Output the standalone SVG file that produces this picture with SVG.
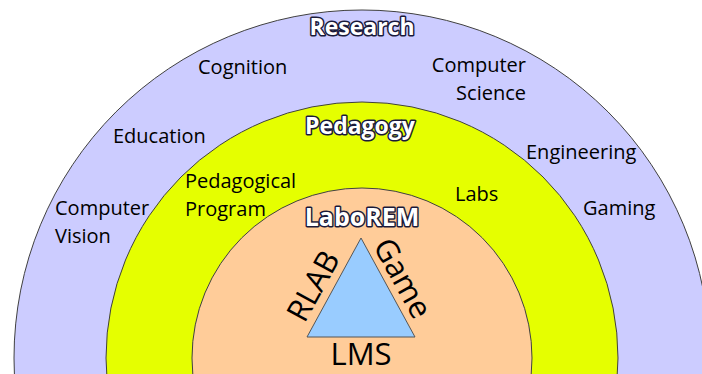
<svg xmlns="http://www.w3.org/2000/svg" width="702" height="374" viewBox="0 0 702 374">
<style>
.ring{stroke:#404040;stroke-width:1}
.lbl{font-family:"Open Sans","Noto Sans",sans-serif;font-size:20px;fill:#000}
.ttl{font-family:"Open Sans","Noto Sans",sans-serif;font-weight:bold;fill:#fff;stroke:#1a1a3a;stroke-width:3px;paint-order:stroke;stroke-linejoin:round;text-anchor:middle}
.big{font-family:"Open Sans","Noto Sans",sans-serif;font-size:31px;fill:#000;text-anchor:middle}
</style>
<rect width="702" height="374" fill="#fff"/>
<g id="research">
<circle class="ring" cx="362" cy="358" r="348" fill="#CCCCFF"/>
<text class="ttl" x="362" y="35" font-size="23">Research</text>
<text class="lbl" x="198" y="74">Cognition</text>
<text class="lbl" x="526" y="72" text-anchor="end">Computer</text>
<text class="lbl" x="526" y="100" text-anchor="end">Science</text>
<text class="lbl" x="113" y="143">Education</text>
<text class="lbl" x="526" y="159">Engineering</text>
<text class="lbl" x="55" y="215">Computer</text>
<text class="lbl" x="55" y="243">Vision</text>
<text class="lbl" x="583" y="215">Gaming</text>
</g>
<g id="pedagogy">
<circle class="ring" cx="362" cy="358" r="256" fill="#E5FF00"/>
<text class="ttl" x="360" y="134" font-size="23">Pedagogy</text>
<text class="lbl" x="185" y="188">Pedagogical</text>
<text class="lbl" x="185" y="216">Program</text>
<text class="lbl" x="455" y="201">Labs</text>
</g>
<g id="laborem">
<circle class="ring" cx="362" cy="358" r="170" fill="#FFCC99"/>
<text class="ttl" x="362" y="226" font-size="25">LaboREM</text>
</g>
<g id="triangle">
<polygon points="361,238 307,337 415,337" fill="#99CCFF" stroke="#555" stroke-width="1"/>
<text class="big" transform="translate(313,286) rotate(-61)" y="11">RLAB</text>
<text class="big" transform="translate(403,278) rotate(61)" y="11">Game</text>
<text class="big" x="361" y="365" font-size="30">LMS</text>
</g>
<g id="connectors"/>
</svg>
